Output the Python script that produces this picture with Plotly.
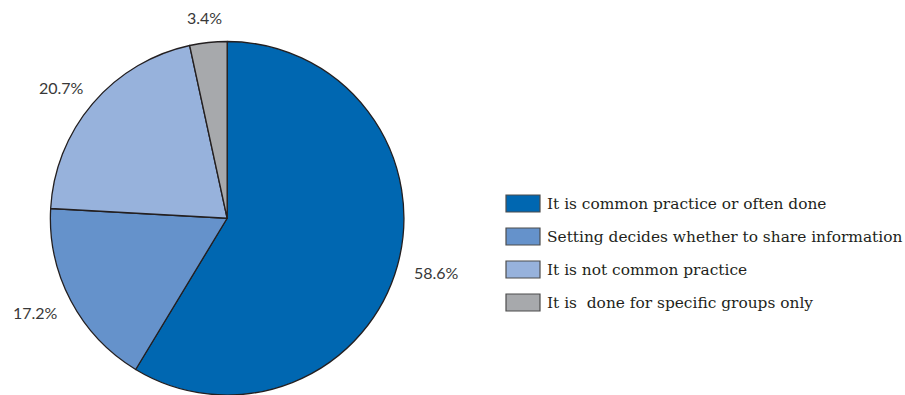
import math
import plotly.graph_objects as go

labels = [
    "It is common practice or often done",
    "Setting decides whether to share information",
    "It is not common practice",
    "It is  done for specific groups only",
]
values = [58.6, 17.2, 20.7, 3.4]
value_text = ["58.6%", "17.2%", "20.7%", "3.4%"]
colors = ["#0067B1", "#6592CB", "#97B2DC", "#A7A9AC"]

W, H = 905, 395
dom_x = [0.052, 0.45]
dom_y = [0.0, 0.895]

fig = go.Figure()
fig.add_trace(go.Pie(
    labels=labels,
    values=values,
    textinfo="none",
    sort=False,
    direction="clockwise",
    rotation=0,
    marker=dict(colors=colors, line=dict(color="#231F20", width=1.3)),
    domain=dict(x=dom_x, y=dom_y),
    showlegend=False,
    hovertext=value_text,
    hoverinfo="label+text",
))

# percentage labels placed outside the pie, a fixed gap away from the arc
cx = W * (dom_x[0] + dom_x[1]) / 2
cy = H * (1 - (dom_y[0] + dom_y[1]) / 2)
r = min(W * (dom_x[1] - dom_x[0]), H * (dom_y[1] - dom_y[0])) / 2
gap_px = 18
char_w, text_h = 9.0, 14.0
total = sum(values)
cum = 0.0
for v, t in zip(values, value_text):
    theta = 2 * math.pi * (cum + v / 2) / total
    cum += v
    ux, uy = math.sin(theta), -math.cos(theta)
    tw = char_w * len(t)
    lx = cx + (r + gap_px) * ux + ux * tw / 2
    ly = cy + (r + gap_px) * uy + uy * text_h / 2
    fig.add_annotation(xref="paper", yref="paper", x=lx / W, y=1 - ly / H,
                       xanchor="center", yanchor="middle", showarrow=False,
                       text=t,
                       font=dict(family="Lato, Noto Sans, sans-serif", size=16, color="#383838"))

# legend drawn as swatches + labels
def px_x(x):
    return x / W

def px_y(y):
    return 1 - y / H

row0, gap = 203.5, 33
for i, (lab, col) in enumerate(zip(labels, colors)):
    yc = row0 + i * gap
    fig.add_shape(type="rect", xref="paper", yref="paper",
                  x0=px_x(506), x1=px_x(540), y0=px_y(yc - 8.5), y1=px_y(yc + 8.5),
                  fillcolor=col, line=dict(color="#4D4D4D", width=1.2))
    fig.add_annotation(xref="paper", yref="paper", x=px_x(545), y=px_y(yc),
                       xanchor="left", yanchor="middle", showarrow=False,
                       text=lab.replace("  ", "&nbsp; "),
                       font=dict(family="DejaVu Serif, serif", size=15.4, color="#231F20"))

fig.update_layout(
    width=W, height=H,
    margin=dict(l=0, r=0, t=0, b=0),
    paper_bgcolor="white",
    plot_bgcolor="white",
)

fig.write_html("out.html")
